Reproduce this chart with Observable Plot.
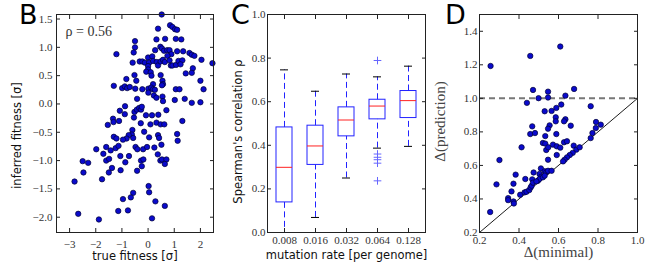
<!DOCTYPE html>
<html><head><meta charset="utf-8">
<script src="https://cdn.jsdelivr.net/npm/d3@7"></script>
<script src="https://cdn.jsdelivr.net/npm/@observablehq/plot@0.6"></script>
<style>
body{margin:0;background:#fff;}
#fig{position:relative;width:654px;height:273px;overflow:hidden;background:#fff;}
.panel{position:absolute;top:0;}
.letter{position:absolute;font-family:"DejaVu Sans";font-size:27px;line-height:1;color:#000;}
</style></head>
<body><div id="fig"></div>
<script>
// ---------- Panel B data: true vs inferred fitness ----------
const bPoints = [
[0.52,1.58],[0.38,1.33],[0.84,1.39],[0.93,1.36],[1.03,1.32],[1.11,1.31],
[-0.50,1.11],[-0.50,1.00],[-1.21,0.88],[0.32,1.14],[0.65,1.15],[1.06,1.15],[1.27,1.14],
[0.27,0.95],[0.47,1.01],[0.53,0.98],[0.61,0.94],[0.73,0.95],[0.82,0.95],[0.89,0.88],[1.11,0.93],[1.34,0.93],[1.58,0.90],[1.67,0.87],[1.77,0.85],[2.04,0.78],[2.46,0.72],
[-0.55,0.91],[-0.59,0.73],[-0.32,0.75],[-0.22,0.75],[-0.12,0.73],[0.0,0.82],[0.04,0.73],[0.16,0.84],[0.19,0.76],[0.33,0.74],[0.38,0.68],[0.48,0.75],[0.57,0.78],[0.64,0.74],[0.74,0.85],[0.82,0.77],[0.87,0.68],[0.93,0.68],[1.07,0.69],[1.16,0.76],[1.31,0.77],[1.24,0.70],[1.44,0.54],[1.71,0.63],[1.67,0.55],[2.0,0.41],
[0.0,0.67],[0.0,0.61],[-0.07,0.57],[0.10,0.56],[0.13,0.50],[-0.52,0.51],[-0.45,0.41],[-0.83,0.44],[0.48,0.51],[0.55,0.41],[0.57,0.35],[0.19,0.35],
[-1.31,0.32],[-0.99,0.28],[-0.89,0.31],[-0.80,0.28],[-0.70,0.30],[-0.49,0.27],[-0.22,0.26],[0.01,0.27],[0.12,0.29],[0.19,0.26],[0.26,0.25],[0.53,0.33],[1.06,0.26],[1.20,0.26],[2.12,0.26],
[0.01,0.20],[0.22,0.15],[0.32,0.11],[0.55,0.13],[0.57,0.05],[-0.42,0.09],[1.02,0.07],[1.40,0.09],[1.67,0.02],[2.0,0.03],
[-0.88,-0.04],[-1.08,-0.12],[-0.89,-0.18],[-0.52,-0.14],[-0.43,-0.10],[-0.34,-0.07],[-0.27,-0.10],[-0.24,-0.05],[-0.54,-0.24],[-0.08,-0.20],[0.15,-0.20],[0.39,-0.19],[0.70,-0.11],
[-1.34,-0.26],[-1.32,-0.32],[-1.54,-0.37],[-1.11,-0.30],[-0.28,-0.34],[0.09,-0.36],[0.32,-0.33],[0.48,-0.36],[0.62,-0.36],[1.31,-0.30],
[-0.60,-0.46],[-0.62,-0.54],[-0.57,-0.60],[-0.74,-0.55],[-0.82,-0.61],[-0.96,-0.63],[-1.31,-0.58],[-1.21,-0.61],[-0.15,-0.49],[0.04,-0.59],[0.38,-0.55],[0.42,-0.60],[1.11,-0.53],[1.13,-0.65],
[-1.98,-0.80],[-1.60,-0.76],[-1.43,-0.82],[-1.24,-0.78],[-1.13,-0.74],[-1.71,-0.88],[-1.06,-0.92],[-0.73,-0.92],[-0.48,-0.76],[-0.41,-0.80],[-0.19,-0.80],[-0.04,-0.76],[0.24,-0.77],[0.51,-0.72],[0.37,-0.89],
[-2.50,-1.01],[-2.29,-1.04],[-2.47,-1.21],[-2.81,-1.37],[-1.76,-1.33],[-1.60,-1.00],[-1.49,-0.97],[-1.50,-1.21],[-1.38,-1.13],[-1.05,-1.17],[-0.87,-1.03],[-0.42,-1.18],[-0.27,-1.00],[-0.18,-0.98],[-0.24,-1.10],[0.47,-1.00],[0.53,-0.98],[0.70,-0.98],[0.64,-1.06],
[0.02,-1.45],[0.04,-1.56],[-0.57,-1.57],[-0.66,-1.65],[-0.96,-1.68],[0.28,-1.72],[0.64,-1.80],[-1.14,-1.89],[-0.77,-1.88],[-2.67,-1.94],[-1.88,-2.04],[0.15,-2.02]
];
const bTrue = bPoints.map(p => p[0]);
const bInferred = bPoints.map(p => p[1]);
const bNote = ["ρ = 0.56"];
const bXTicks = [-3, -2, -1, 0, 1, 2];
const bYTicks = [-2.0, -1.5, -1.0, -0.5, 0.0, 0.5, 1.0, 1.5];

// ---------- Panel C data: Spearman correlation boxplots ----------
const rates = ["0.008", "0.016", "0.032", "0.064", "0.128"];
const whiskerLow  = [-0.02, 0.069, 0.25, 0.387, 0.395];
const q1          = [0.138, 0.31, 0.441, 0.519, 0.525];
const median      = [0.299, 0.397, 0.516, 0.58, 0.605];
const q3          = [0.482, 0.49, 0.574, 0.609, 0.649];
const whiskerHigh = [0.746, 0.648, 0.727, 0.714, 0.763];
const outlierRate  = ["0.064", "0.064", "0.064", "0.064", "0.064", "0.064"];
const outlierValue = [0.789, 0.36, 0.345, 0.334, 0.318, 0.237];
const cYTicks = [0.0, 0.2, 0.4, 0.6, 0.8, 1.0];

// ---------- Panel D data: minimal vs prediction ----------
const dPoints = [
[0.256,1.193],[0.457,1.253],[0.609,1.309],[0.471,1.050],[0.547,1.040],[0.679,1.056],[0.499,1.001],[0.547,1.005],[0.635,1.016],[0.440,0.973],[0.614,0.963],[0.763,0.953],[0.530,0.923],[0.565,0.925],[0.589,0.943],[0.586,0.887],[0.635,0.875],[0.628,0.863],[0.586,0.863],[0.790,0.859],
[0.467,0.833],[0.555,0.839],[0.547,0.819],[0.662,0.837],
[0.457,0.787],[0.481,0.793],[0.533,0.775],[0.589,0.787],[0.413,0.708],[0.521,0.734],[0.533,0.730],[0.572,0.724],[0.591,0.714],[0.609,0.706],[0.628,0.738],[0.643,0.744],[0.538,0.692],[0.548,0.708],[0.591,0.662],[0.547,0.634],[0.301,0.632],[0.677,0.718],[0.690,0.694],[0.707,0.708],[0.672,0.675],[0.657,0.662],[0.643,0.648],[0.631,0.634],[0.623,0.624],[0.763,0.763],[0.772,0.793],[0.789,0.823],[0.814,0.843],
[0.511,0.582],[0.474,0.558],[0.383,0.545],[0.286,0.487],[0.372,0.491],[0.432,0.519],[0.467,0.517],[0.504,0.549],[0.513,0.533],[0.530,0.565],[0.538,0.559],[0.547,0.568],[0.565,0.568],[0.496,0.509],[0.504,0.519],[0.521,0.529],[0.530,0.539],[0.362,0.445],[0.345,0.405],[0.345,0.393],[0.372,0.385],[0.374,0.373],[0.406,0.425],[0.428,0.439],[0.438,0.443],[0.452,0.453],[0.459,0.469],[0.464,0.479],[0.471,0.497],[0.488,0.505],[0.254,0.322]
];
const dMinimal = dPoints.map(p => p[0]);
const dPrediction = dPoints.map(p => p[1]);
const dDiagonal = [0.2, 1.0];
const dThreshold = [1.0];
const dXTicks = [0.2, 0.4, 0.6, 0.8, 1.0];
const dYTicks = [0.2, 0.4, 0.6, 0.8, 1.0, 1.2, 1.4];

// ---------- styling helpers ----------
const tickFont = {fontFamily: "Liberation Serif", fontSize: 11, fill: "#333", stroke: "#222"};
function frameAxes({xTicks, yTicks, xFormat, yFormat, xPad, yPad}) {
  return [
    Plot.axisX(xTicks, {anchor: "bottom", tickSize: -4, tickPadding: xPad, tickFormat: xFormat, label: null, ...tickFont}),
    Plot.axisX(xTicks, {anchor: "top", tickSize: -4, tickFormat: () => "", label: null, stroke: "#222"}),
    Plot.axisY(yTicks, {anchor: "left", tickSize: -4, tickPadding: yPad, tickFormat: yFormat, label: null, ...tickFont}),
    Plot.axisY(yTicks, {anchor: "right", tickSize: -4, tickFormat: () => "", label: null, stroke: "#222"}),
    Plot.frame({stroke: "#222", strokeWidth: 1})
  ];
}
function axisLabelX(t, dy, font) {
  return Plot.text([t], {text: d => d, frameAnchor: "bottom", dy, lineAnchor: "middle", fill: "#111", ...font});
}
function axisLabelY(t, dx, dy, font) {
  return Plot.text([t], {text: d => d, frameAnchor: "left", dx, dy, rotate: -90, lineAnchor: "middle", textAnchor: "middle", fill: "#111", ...font});
}
const sansFont = {fontFamily: "DejaVu Sans", fontSize: 11.5};
const serifLabel = {fontFamily: "Liberation Serif", fontSize: 15, fill: "#444"};
const dotStyle = {r: 2.7, fill: "#0a0acc", stroke: "#000033", strokeWidth: 0.7};

const fig = document.getElementById("fig");
function place(svg, left) {
  const wrap = document.createElement("div");
  wrap.className = "panel";
  wrap.style.left = left + "px";
  wrap.appendChild(svg);
  fig.appendChild(wrap);
}

// ---------- Panel B ----------
const plotB = Plot.plot({
  width: 216, height: 273,
  marginLeft: 56, marginRight: 3, marginTop: 14, marginBottom: 41,
  style: {background: "transparent", overflow: "visible"},
  x: {domain: [-3.5, 2.5]},
  y: {domain: [-2.27, 1.58]},
  marks: [
    Plot.dot(bTrue, {x: bTrue, y: bInferred, ...dotStyle}),
    Plot.text(bNote, {text: d => d, frameAnchor: "top-left", dx: 9, dy: 17, textAnchor: "start", lineAnchor: "middle", fontFamily: "Liberation Serif", fontSize: 14, fill: "#333"}),
    ...frameAxes({xTicks: bXTicks, yTicks: bYTicks, xFormat: d3.format("d"), yFormat: d3.format(".1f"), xPad: 12, yPad: 8}),
    axisLabelX("true fitness [σ]", 24, sansFont),
    axisLabelY("inferred fitness [σ]", -39, 12, sansFont)
  ]
});
place(plotB, 0);

// ---------- Panel C ----------
const boxes = rates.map((r, i) => ({rate: r, lo: whiskerLow[i], q1: q1[i], med: median[i], q3: q3[i], hi: whiskerHigh[i]}));
const outliers = outlierRate.map((r, i) => ({rate: r, v: outlierValue[i]}));
const plotC = Plot.plot({
  width: 214, height: 273,
  marginLeft: 51, marginRight: 5, marginTop: 14, marginBottom: 41,
  style: {background: "transparent", overflow: "visible"},
  x: {type: "band", domain: rates, paddingInner: 0.5, paddingOuter: 0.25},
  y: {domain: [0, 1]},
  marks: [
    Plot.ruleX(boxes, {x: "rate", y1: "q3", y2: "hi", stroke: "#2222ff", strokeDasharray: "6,3.5", clip: true}),
    Plot.ruleX(boxes, {x: "rate", y1: "lo", y2: "q1", stroke: "#2222ff", strokeDasharray: "6,3.5", clip: true}),
    Plot.tickY(boxes, {x: "rate", y: "hi", stroke: "#000", insetLeft: 4, insetRight: 4, clip: true}),
    Plot.tickY(boxes, {x: "rate", y: "lo", stroke: "#000", insetLeft: 4, insetRight: 4, clip: true}),
    Plot.barY(boxes, {x: "rate", y1: "q1", y2: "q3", fill: "none", stroke: "#2222ff", strokeWidth: 1}),
    Plot.tickY(boxes, {x: "rate", y: "med", stroke: "#ff2222", strokeWidth: 1}),
    Plot.dot(outliers, {x: "rate", y: "v", symbol: "plus", r: 2.6, stroke: "#6666ff", strokeWidth: 1}),
    ...frameAxes({xTicks: rates, yTicks: cYTicks, xFormat: d => d, yFormat: d3.format(".1f"), xPad: 7.5, yPad: 6}),
    axisLabelX("mutation rate [per genome]", 23, sansFont),
    axisLabelY("Spearman's correlation ρ", -28.7, 8, sansFont)
  ]
});
place(plotC, 216);

// ---------- Panel D ----------
const plotD = Plot.plot({
  width: 224, height: 273,
  marginLeft: 49, marginRight: 17, marginTop: 14, marginBottom: 41,
  style: {background: "transparent", overflow: "visible"},
  x: {domain: [0.2, 1.0]},
  y: {domain: [0.2, 1.5]},
  marks: [
    Plot.line(dDiagonal, {x: d => d, y: d => d, stroke: "#000", strokeWidth: 0.9}),
    Plot.ruleY(dThreshold, {stroke: "#777", strokeWidth: 2, strokeDasharray: "6,4"}),
    Plot.dot(dMinimal, {x: dMinimal, y: dPrediction, ...dotStyle}),
    ...frameAxes({xTicks: dXTicks, yTicks: dYTicks, xFormat: d3.format(".1f"), yFormat: d3.format(".1f"), xPad: 7.5, yPad: 6}),
    axisLabelX("Δ(minimal)", 20, serifLabel),
    axisLabelY("Δ(prediction)", -39, -2, serifLabel)
  ]
});
place(plotD, 430);

// ---------- panel letters ----------
[["B", 19], ["C", 231], ["D", 445]].forEach(([t, x]) => {
  const el = document.createElement("div");
  el.className = "letter";
  el.textContent = t;
  el.style.left = x + "px";
  el.style.top = "1px";
  fig.appendChild(el);
});
</script>
</body></html>
